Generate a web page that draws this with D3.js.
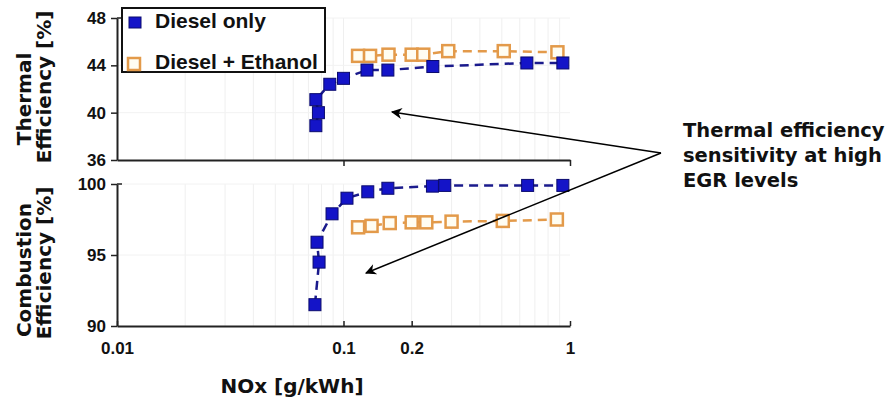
<!DOCTYPE html>
<html><head><meta charset="utf-8">
<script src="https://cdn.jsdelivr.net/npm/d3@7"></script>
<style>body{margin:0;background:#fff}svg{display:block}</style>
</head><body><svg id="c" width="889" height="402"></svg>
<script>
// Data
const thermalDieselX = [0.0755, 0.0775, 0.0755, 0.087, 0.1, 0.127, 0.157, 0.248, 0.645, 0.93];
const thermalDieselY = [38.9, 40.0, 41.1, 42.4, 42.9, 43.6, 43.6, 43.9, 44.2, 44.2];
const thermalEthX = [0.116, 0.131, 0.158, 0.2, 0.225, 0.29, 0.51, 0.88];
const thermalEthY = [44.8, 44.8, 44.9, 44.9, 44.9, 45.2, 45.2, 45.1];
const combDieselX = [0.0748, 0.078, 0.0764, 0.089, 0.1036, 0.128, 0.157, 0.247, 0.28, 0.65, 0.93];
const combDieselY = [91.5, 94.5, 95.9, 97.9, 99.0, 99.45, 99.7, 99.85, 99.9, 99.9, 99.9];
const combEthX = [0.116, 0.133, 0.16, 0.2, 0.232, 0.3, 0.505, 0.875];
const combEthY = [96.95, 97.05, 97.25, 97.3, 97.3, 97.35, 97.4, 97.5];
const xTicks = [0.01, 0.1, 0.2, 1];
const thermalTicks = [36, 40, 44, 48];
const combTicks = [90, 95, 100];
const seriesNames = ["Diesel only", "Diesel + Ethanol"];

const svg = d3.select("#c");
const x = d3.scaleLog().domain([0.01, 1]).range([117, 570]);
const yT = d3.scaleLinear().domain([36, 48]).range([160, 18]);
const yC = d3.scaleLinear().domain([90, 100]).range([326, 184]);

const blueFill = "#1414c8", blueStroke = "#0a0a6e", orange = "#e39a4a";
const tickFont = "'Liberation Sans', Arial, sans-serif";
const boldFont = "'DejaVu Sans', Verdana, sans-serif";

// grid
const minor = [];
for (let d = 0.01; d < 1; d *= 10) for (let k = 2; k <= 9; k++) minor.push(d * k);
function grid(y, ticks) {
  const g = svg.append("g");
  g.selectAll("line.v").data(minor.concat([0.1])).join("line")
    .attr("x1", d => x(d)).attr("x2", d => x(d))
    .attr("y1", y.range()[1]).attr("y2", y.range()[0])
    .attr("stroke", "#efefef").attr("stroke-width", 1);
  g.selectAll("line.h").data(ticks.slice(1)).join("line")
    .attr("x1", 117).attr("x2", 570)
    .attr("y1", d => y(d)).attr("y2", d => y(d))
    .attr("stroke", "#f2f2f2").attr("stroke-width", 1);
}
grid(yT, thermalTicks);
grid(yC, combTicks);

function yAxis(y, ticks) {
  const g = svg.append("g").attr("transform", "translate(117,0)")
    .call(d3.axisLeft(y).tickValues(ticks).tickSizeInner(6).tickSizeOuter(0).tickPadding(5).tickFormat(d3.format("d")));
  g.select(".domain").attr("stroke", "#222").attr("stroke-width", 2);
  g.selectAll(".tick line").attr("stroke", "#222").attr("stroke-width", 1.5);
  g.selectAll("text").attr("font-family", tickFont).attr("font-weight", "bold")
    .attr("font-size", 17).attr("fill", "#111");
  g.append("line").attr("x1", 0).attr("x2", 5).attr("y1", y.range()[1]).attr("y2", y.range()[1])
    .attr("stroke", "#222").attr("stroke-width", 1.5);
}
yAxis(yT, thermalTicks);
yAxis(yC, combTicks);

// top x axis (no labels)
const gt = svg.append("g").attr("transform", "translate(0,160)")
  .call(d3.axisBottom(x).tickValues([0.1, 1]).tickSize(6).tickSizeOuter(0).tickFormat(""));
gt.select(".domain").attr("stroke", "#222").attr("stroke-width", 2);
gt.selectAll(".tick line").attr("stroke", "#222").attr("stroke-width", 1.5);

const gb = svg.append("g").attr("transform", "translate(0,326)")
  .call(d3.axisBottom(x).tickValues(xTicks).tickSizeInner(-5).tickSizeOuter(0).tickPadding(16).tickFormat(d => String(d)));
gb.select(".domain").attr("stroke", "#222").attr("stroke-width", 2);
gb.selectAll(".tick line").attr("stroke", "#222").attr("stroke-width", 1.5);
gb.selectAll("text").attr("font-family", tickFont).attr("font-weight", "bold")
  .attr("font-size", 17).attr("fill", "#111");

// series
function series(xs, ys, y, filled) {
  const pts = xs.map((v, i) => [v, ys[i]]);
  const line = d3.line().x(d => x(d[0])).y(d => y(d[1]));
  svg.append("path").datum(pts).attr("d", line).attr("fill", "none")
    .attr("stroke", filled ? "#1a1a8c" : orange).attr("stroke-width", 2.5)
    .attr("stroke-dasharray", "9,6");
  const s = 12;
  svg.append("g").selectAll("rect").data(pts).join("rect")
    .attr("x", d => x(d[0]) - s / 2).attr("y", d => y(d[1]) - s / 2)
    .attr("width", s).attr("height", s)
    .attr("fill", filled ? blueFill : "#fffdf2")
    .attr("stroke", filled ? blueStroke : orange)
    .attr("stroke-width", filled ? 1 : 2.5);
}
series(thermalEthX, thermalEthY, yT, false);
series(thermalDieselX, thermalDieselY, yT, true);
series(combEthX, combEthY, yC, false);
series(combDieselX, combDieselY, yC, true);

// legend
const lg = svg.append("g");
lg.append("rect").attr("x", 122).attr("y", 8).attr("width", 203).attr("height", 64)
  .attr("fill", "#fff").attr("stroke", "#111").attr("stroke-width", 2);
lg.append("rect").attr("x", 129).attr("y", 17).attr("width", 12).attr("height", 11)
  .attr("fill", blueFill).attr("stroke", blueStroke);
lg.append("rect").attr("x", 128).attr("y", 58).attr("width", 12).attr("height", 12)
  .attr("fill", "#fffdf2").attr("stroke", orange).attr("stroke-width", 2.5);
lg.selectAll("text").data(seriesNames).join("text")
  .attr("x", 155).attr("y", (d, i) => i === 0 ? 28 : 69)
  .attr("font-family", tickFont).attr("font-weight", "bold").attr("font-size", 21)
  .attr("fill", "#111").text(d => d);

// axis titles
function ytitle(text, cy, bx) {
  svg.append("text").attr("transform", `translate(${bx},${cy}) rotate(-90)`)
    .attr("text-anchor", "middle").attr("font-family", boldFont).attr("font-weight", "bold")
    .attr("font-size", 20).attr("fill", "#111").text(text);
}
ytitle("Thermal", 99, 31);
ytitle("Efficiency [%]", 87, 51);
ytitle("Combustion", 270, 31);
ytitle("Efficiency [%]", 263, 51);
svg.append("text").attr("x", 292).attr("y", 393).attr("text-anchor", "middle")
  .attr("font-family", boldFont).attr("font-weight", "bold").attr("font-size", 20)
  .attr("fill", "#111").text("NOx [g/kWh]");

// annotation
svg.append("defs").append("marker").attr("id", "ah").attr("viewBox", "0 0 10 10")
  .attr("refX", 9).attr("refY", 5).attr("markerWidth", 16).attr("markerHeight", 11)
  .attr("markerUnits", "userSpaceOnUse").attr("orient", "auto")
  .append("path").attr("d", "M0,0 L10,5 L0,10 L3,5 Z").attr("fill", "#000");
[[392, 112], [366, 273]].forEach(p => {
  svg.append("line").attr("x1", 661).attr("y1", 153).attr("x2", p[0]).attr("y2", p[1])
    .attr("stroke", "#000").attr("stroke-width", 1.5).attr("marker-end", "url(#ah)");
});
const ann = ["Thermal efficiency", "sensitivity at high", "EGR levels"];
svg.append("g").selectAll("text").data(ann).join("text")
  .attr("x", 683).attr("y", (d, i) => 137 + i * 25)
  .attr("font-family", boldFont).attr("font-weight", "bold").attr("font-size", 19.5)
  .attr("fill", "#111").text(d => d);
</script></body></html>
